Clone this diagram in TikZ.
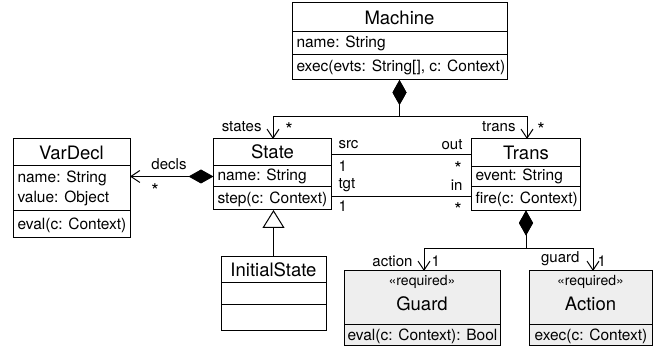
\documentclass[tikz,border=0pt]{standalone}
\usepackage{fontspec}
\setmainfont{TeX Gyre Heros}
\usetikzlibrary{arrows.meta}
\definecolor{boxgray}{RGB}{238,238,238}
\newcommand\umlbox[6]{\node[#1, minimum width={#5pt-#3pt}, minimum height={#6pt-#4pt}] (#2) at ({(#3+#5)/2},{(#4+#6)/2}) {};}
\newcommand\sepline[2]{\draw (#1.west |- 0,#2) -- (#1.east |- 0,#2);}
\begin{document}
\begin{tikzpicture}[x=1pt,y=-1pt, line width=1pt,
  box/.style={draw, inner sep=0pt, outer sep=0pt, line width=1pt},
  gbox/.style={box, fill=boxgray},
  ttl/.style={font=\fontsize{18.5}{20}\selectfont, inner sep=0pt},
  txt/.style={font=\fontsize{15.5}{17}\selectfont, inner sep=0pt, anchor=west},
  lbl/.style={font=\fontsize{15}{17}\selectfont, inner sep=0pt},
  mult/.style={font=\fontsize{19}{20}\selectfont, inner sep=0pt},
  ster/.style={font=\fontsize{14}{16}\selectfont, inner sep=0pt},
  comp/.style={{Diamond[length=25pt,width=14pt]}-{Straight Barb[length=9pt,width=12pt]}},
  inh/.style={-{Triangle[open,length=18pt,width=22pt]}},
  ]
\useasboundingbox (0,0) rectangle (654,347);

% Machine
\umlbox{box}{machine}{292}{3}{507}{80}
\sepline{machine}{32}
\sepline{machine}{55}
\node[ttl] (machine-t) at (399.5,17.5) {Machine};
\node[txt] (machine-a) at (296,43.5) {name: String};
\node[txt] (machine-o) at (296,67.5) {exec(evts: String[], c: Context)};

% State
\umlbox{box}{state}{213.5}{139}{331.5}{210}
\sepline{state}{165.5}
\sepline{state}{186.5}
\node[ttl] (state-t) at (272.5,152) {State};
\node[txt] (state-a) at (217,176.5) {name: String};
\node[txt] (state-o) at (217,199.5) {step(c: Context)};

% Trans
\umlbox{box}{trans}{471.5}{139}{580.5}{210.5}
\sepline{trans}{166.5}
\sepline{trans}{187}
\node[ttl] (trans-t) at (526,152.5) {Trans};
\node[txt] (trans-a) at (475,176.5) {event: String};
\node[txt] (trans-o) at (475,199.5) {fire(c: Context)};

% VarDecl
\umlbox{box}{vardecl}{13}{139}{130}{238}
\sepline{vardecl}{166}
\sepline{vardecl}{211}
\node[ttl] (vardecl-t) at (71.5,152.5) {VarDecl};
\node[txt] (vardecl-a) at (17,178) {name: String};
\node[txt] (vardecl-b) at (17,198.5) {value: Object};
\node[txt] (vardecl-o) at (17,225) {eval(c: Context)};

% InitialState
\umlbox{box}{initial}{221}{257}{326}{331}
\sepline{initial}{283}
\sepline{initial}{305}
\node[ttl] (initial-t) at (273.5,270) {InitialState};

% Guard
\umlbox{gbox}{guard}{344}{271}{500}{346}
\sepline{guard}{325}
\node[ster] (guard-s) at (422,282) {«required»};
\node[ttl] (guard-t) at (422,303.5) {Guard};
\node[txt] (guard-o) at (347,336) {eval(c: Context): Bool};

% Action
\umlbox{gbox}{action}{529}{271}{652}{346}
\sepline{action}{325}
\node[ster] (action-s) at (590.5,282) {«required»};
\node[ttl] (action-t) at (590.5,303.5) {Action};
\node[txt] (action-o) at (534,336) {exec(c: Context)};

% Machine composition
\draw[comp] (machine.south) -- ++(0,37) -| ([xshift=0.5pt]state.north);
\draw[comp] (machine.south) -- ++(0,37) -| ([xshift=1pt]trans.north);
\node[lbl, anchor=east] (l-states) at (262,127) {states};
\node[mult] (l-states-m) at (289,130) {*};
\node[lbl, anchor=east] (l-trans) at (516,127) {trans};
\node[mult] (l-trans-m) at (541,130) {*};

% decls
\draw[comp] ([yshift=-2pt]state.west) -- ([yshift=-2pt]state.west -| vardecl.east);
\node[lbl] (l-decls) at (169,164) {decls};
\node[mult] (l-decls-m) at (155,191) {*};

% src / tgt
\draw ([yshift=-16pt]state.north east) -- ([yshift=-16pt]state.north east -| trans.west);
\draw ([yshift=-58pt]state.north east) -- ([yshift=-58pt]state.north east -| trans.west);
\node[lbl, anchor=west] (l-src) at (338,145) {src};
\node[lbl, anchor=west] (l-src-m) at (338,166) {1};
\node[lbl, anchor=east] (l-out) at (463,145) {out};
\node[mult] (l-out-m) at (458,169) {*};
\node[lbl, anchor=west] (l-tgt) at (338,185) {tgt};
\node[lbl, anchor=west] (l-tgt-m) at (338,206) {1};
\node[lbl, anchor=east] (l-in) at (463,185) {in};
\node[mult] (l-in-m) at (458,210) {*};

% inheritance
\draw[inh] (initial.north) -- (initial.north |- state.south);

% Trans composition
\draw[comp] (trans.south) -- ++(0,38.5) -| ([xshift=2pt]guard.north);
\draw[comp] (trans.south) -- ++(0,38.5) -| ([xshift=2.5pt]action.north);
\node[lbl, anchor=east] (l-action) at (413,261) {action};
\node[lbl, anchor=west] (l-action-m) at (431,261) {1};
\node[lbl, anchor=east] (l-guard) at (580,259) {guard};
\node[lbl, anchor=west] (l-guard-m) at (597,261) {1};
\end{tikzpicture}
\end{document}
